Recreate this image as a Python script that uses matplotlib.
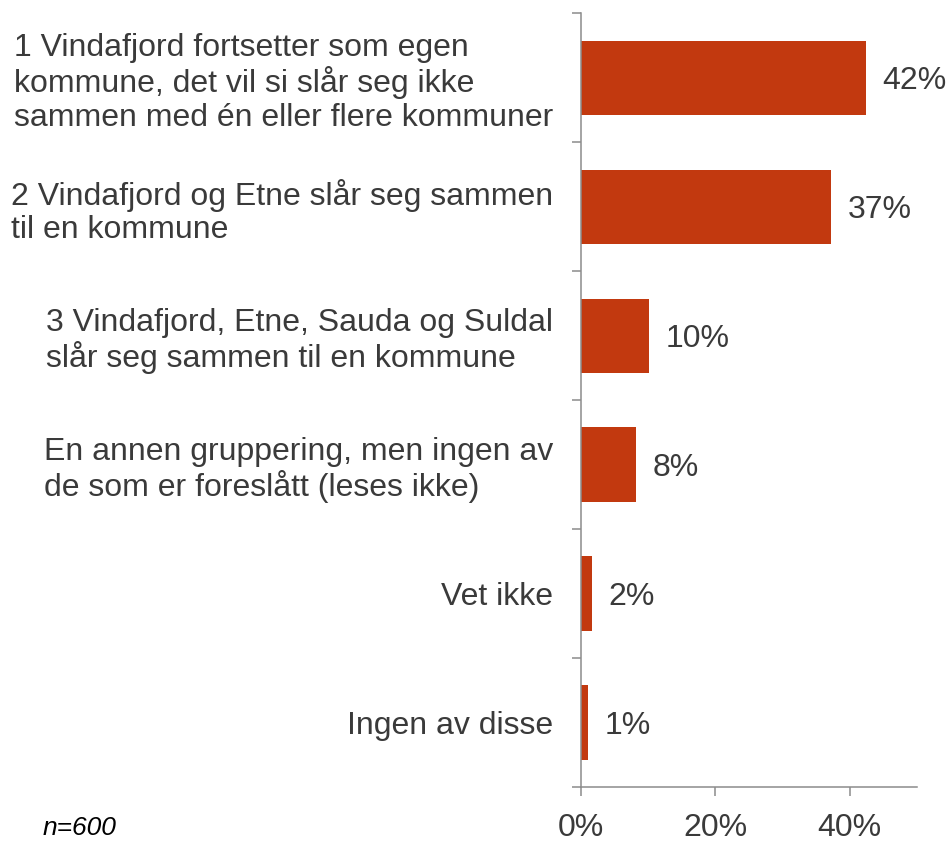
import numpy as np
import matplotlib.pyplot as plt
from matplotlib.ticker import FixedLocator

plt.rcParams['font.family'] = ['Liberation Sans', 'DejaVu Sans']

# survey answers (share of respondents, %)
categories = [
    "1 Vindafjord fortsetter som egen\nkommune, det vil si slår seg ikke\nsammen med én eller flere kommuner",
    "2 Vindafjord og Etne slår seg sammen\ntil en kommune",
    "3 Vindafjord, Etne, Sauda og Suldal\nslår seg sammen til en kommune",
    "En annen gruppering, men ingen av\nde som er foreslått (leses ikke)",
    "Vet ikke",
    "Ingen av disse",
]
values = [42.4, 37.2, 10.2, 8.2, 1.6, 1.0]
x_ticks = [0, 20, 40]
x_ticklabels = ["0%", "20%", "40%"]
note = "n=600"

bar_color = '#C2390F'
text_color = '#3A3A3A'
axis_color = '#8C8C8C'
fs = 23

fig = plt.figure(figsize=(9.49, 8.41), dpi=100)
ax = fig.add_axes([0.612, 0.0642, 0.354, 0.9203])

pos = np.arange(len(categories))
bars = ax.barh(pos, values, height=0.574, color=bar_color)
texts = ax.bar_label(bars, labels=[f"{v:.0f}%" for v in values], padding=12,
                     fontsize=fs, color=text_color)
for t in texts:
    t.set_va('center_baseline')

ax.set_xlim(0, 50)
ax.set_ylim(len(categories) - 0.5, -0.5)

# category labels on major ticks, boundary marks as minor ticks
ax.set_yticks(pos)
ax.set_yticklabels(categories)
ax.yaxis.set_minor_locator(FixedLocator(np.arange(-0.5, len(categories), 1)))
ax.tick_params(axis='y', which='major', length=0, pad=20, labelsize=fs,
               labelcolor=text_color)
ax.tick_params(axis='y', which='minor', length=6.5, width=1.1, color=axis_color)
for lab in ax.get_yticklabels():
    lab.set_multialignment('left')
    lab.set_linespacing(1.15)

ax.set_xticks(x_ticks)
ax.set_xticklabels(x_ticklabels)
ax.tick_params(axis='x', length=6.5, width=1.1, color=axis_color, pad=12,
               labelsize=fs, labelcolor=text_color)

for s in ['top', 'right']:
    ax.spines[s].set_visible(False)
for s in ['left', 'bottom']:
    ax.spines[s].set_color(axis_color)
    ax.spines[s].set_linewidth(1.1)

fig.text(43 / 949, 1 - 835 / 841, note, fontsize=19, style='italic',
         color='black', ha='left', va='baseline')

fig.savefig('out.png', dpi=100)
